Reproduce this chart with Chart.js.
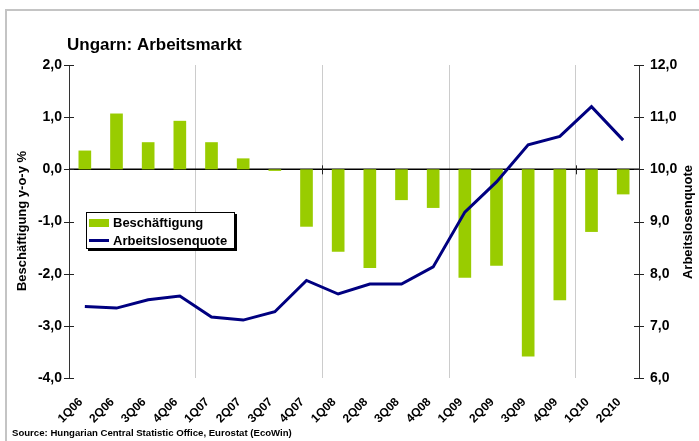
<!DOCTYPE html>
<html>
<head>
<meta charset="utf-8">
<script src="https://cdn.jsdelivr.net/npm/chart.js@4.4.1/dist/chart.umd.min.js"></script>
<style>
  html, body { margin: 0; padding: 0; background: #fff; }
  #wrap { width: 699px; height: 441px; }
</style>
</head>
<body>
<div id="wrap"><canvas id="chart" width="699" height="441"></canvas></div>
<script>
// Daten
const categories = ['1Q06','2Q06','3Q06','4Q06','1Q07','2Q07','3Q07','4Q07','1Q08','2Q08','3Q08','4Q08','1Q09','2Q09','3Q09','4Q09','1Q10','2Q10'];
const beschaeftigung = [0.36, 1.07, 0.52, 0.93, 0.52, 0.21, -0.03, -1.10, -1.58, -1.89, -0.59, -0.74, -2.08, -1.85, -3.59, -2.51, -1.20, -0.48];
const arbeitslosenquote = [7.37, 7.34, 7.50, 7.57, 7.17, 7.11, 7.27, 7.87, 7.61, 7.80, 7.80, 8.13, 9.18, 9.76, 10.47, 10.63, 11.20, 10.56];
const leftTicks = [-4, -3, -2, -1, 0, 1, 2];
const rightTicks = [6, 7, 8, 9, 10, 11, 12];

const FONT = '"Liberation Sans", Arial, sans-serif';
const fmt = v => v.toFixed(1).replace('.', ',');

// Zusatz: Rahmen, Titel, Achsentitel, Legende, Quelle
const extras = {
  id: 'extras',
  beforeDraw(chart) {
    const ctx = chart.ctx;
    ctx.save();
    ctx.fillStyle = '#fff';
    ctx.fillRect(0, 0, chart.width, chart.height);
    ctx.fillStyle = '#c4c4c4';
    ctx.fillRect(5, 9, chart.width - 5, 2);
    ctx.fillRect(5, 9, 2, chart.height - 9);
    ctx.restore();
  },
  beforeDatasetsDraw(chart) {
    const ctx = chart.ctx;
    const { left, right } = chart.chartArea;
    const y0 = chart.scales.y.getPixelForValue(0);
    ctx.save();
    ctx.strokeStyle = '#000';
    ctx.lineWidth = 1.5;
    ctx.beginPath();
    ctx.moveTo(left, y0);
    ctx.lineTo(right, y0);
    ctx.stroke();
    ctx.restore();
  },
  afterDraw(chart) {
    const ctx = chart.ctx;
    const { left, right } = chart.chartArea;
    const x = chart.scales.x, y = chart.scales.y, y1 = chart.scales.y1;
    ctx.save();

    // Teilstriche
    ctx.strokeStyle = '#222';
    ctx.lineWidth = 1;
    ctx.beginPath();
    leftTicks.forEach(v => {
      const p = Math.round(y.getPixelForValue(v)) + 0.5;
      ctx.moveTo(left - 5, p); ctx.lineTo(left + 5, p);
    });
    rightTicks.forEach(v => {
      const p = Math.round(y1.getPixelForValue(v)) + 0.5;
      ctx.moveTo(right - 5, p); ctx.lineTo(right + 5, p);
    });
    const step = x.getPixelForValue(1) - x.getPixelForValue(0);
    const y0 = y.getPixelForValue(0);
    [8, 16].forEach(i => {
      const p = Math.round(x.getPixelForValue(i) - step / 2) + 0.5;
      ctx.moveTo(p, y0 - 4); ctx.lineTo(p, y0 + 5);
    });
    ctx.stroke();

    // Titel
    ctx.fillStyle = '#000';
    ctx.font = 'bold 17px ' + FONT;
    ctx.textAlign = 'left';
    ctx.textBaseline = 'middle';
    ctx.fillText('Ungarn: Arbeitsmarkt', 67, 45);

    // Achsentitel
    ctx.font = 'bold 13px ' + FONT;
    ctx.textAlign = 'center';
    ctx.save();
    ctx.translate(22, 221);
    ctx.rotate(-Math.PI / 2);
    ctx.fillText('Beschäftigung y-o-y %', 0, 0);
    ctx.restore();
    ctx.save();
    ctx.translate(688, 222);
    ctx.rotate(-Math.PI / 2);
    ctx.fillText('Arbeitslosenquote', 0, 0);
    ctx.restore();

    // Legende
    ctx.fillStyle = '#000';
    ctx.fillRect(88, 214, 149, 37);
    ctx.fillStyle = '#fff';
    ctx.fillRect(86, 212, 149, 37);
    ctx.strokeStyle = '#000';
    ctx.strokeRect(86.5, 212.5, 148, 36);
    ctx.fillStyle = '#99cc00';
    ctx.fillRect(89, 219, 20, 8);
    ctx.strokeStyle = '#000080';
    ctx.lineWidth = 3;
    ctx.beginPath();
    ctx.moveTo(89, 240.5); ctx.lineTo(109, 240.5);
    ctx.stroke();
    ctx.fillStyle = '#000';
    ctx.font = 'bold 13px ' + FONT;
    ctx.textAlign = 'left';
    ctx.fillText('Beschäftigung', 113, 223);
    ctx.fillText('Arbeitslosenquote', 113, 241);

    // Quelle
    ctx.font = 'bold 9.6px ' + FONT;
    ctx.fillText('Source: Hungarian Central Statistic Office, Eurostat (EcoWin)', 12, 433);
    ctx.restore();
  }
};

new Chart(document.getElementById('chart'), {
  type: 'bar',
  data: {
    labels: categories,
    datasets: [
      {
        type: 'line',
        label: 'Arbeitslosenquote',
        data: arbeitslosenquote,
        yAxisID: 'y1',
        borderColor: '#000080',
        borderWidth: 3,
        pointRadius: 0,
        tension: 0,
        order: 0
      },
      {
        label: 'Beschäftigung',
        data: beschaeftigung,
        yAxisID: 'y',
        backgroundColor: '#99cc00',
        barPercentage: 0.4,
        categoryPercentage: 1,
        order: 1
      }
    ]
  },
  options: {
    responsive: false,
    animation: false,
    layout: { padding: { top: 65, left: 0, right: 0, bottom: 0 } },
    plugins: {
      legend: { display: false },
      tooltip: { enabled: false }
    },
    scales: {
      x: {
        offset: true,
        grid: {
          offset: true,
          drawTicks: false,
          color: ctx => (ctx.index > 0 && ctx.index < categories.length && ctx.index % 4 === 0) ? '#cccccc' : 'rgba(0,0,0,0)',
          lineWidth: 1
        },
        border: { display: false },
        ticks: {
          autoSkip: false,
          minRotation: 45,
          maxRotation: 45,
          padding: 17,
          labelOffset: -4,
          color: '#000',
          font: { family: FONT, size: 12, weight: 'bold' }
        },
        afterFit: scale => { scale.height = 63; }
      },
      y: {
        position: 'left',
        min: -4,
        max: 2,
        afterBuildTicks: scale => { scale.ticks = leftTicks.map(v => ({ value: v })); },
        grid: { display: false, drawTicks: false },
        border: { display: true, color: '#333', width: 1 },
        ticks: {
          padding: 7,
          color: '#000',
          callback: v => fmt(v),
          font: { family: FONT, size: 14, weight: 'bold' }
        },
        afterFit: scale => { scale.width = 69; }
      },
      y1: {
        position: 'right',
        min: 6,
        max: 12,
        afterBuildTicks: scale => { scale.ticks = rightTicks.map(v => ({ value: v })); },
        grid: { display: false, drawTicks: false },
        border: { display: true, color: '#333', width: 1 },
        ticks: {
          padding: 11,
          color: '#000',
          callback: v => fmt(v),
          font: { family: FONT, size: 14, weight: 'bold' }
        },
        afterFit: scale => { scale.width = 60; }
      }
    }
  },
  plugins: [extras]
});
</script>
</body>
</html>
